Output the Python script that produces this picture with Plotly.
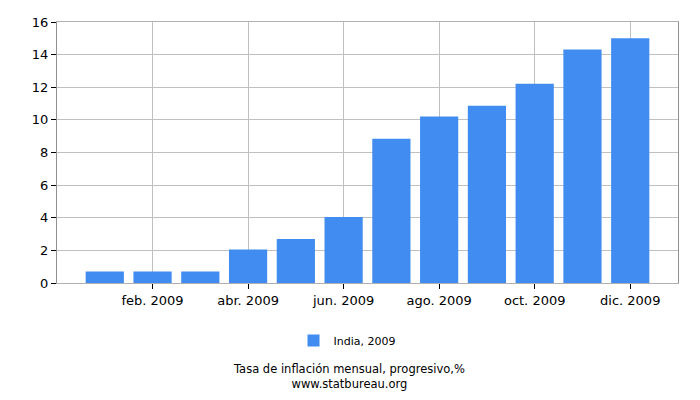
import plotly.graph_objs as go

# datos
meses = list(range(1, 13))
etiquetas_x = ["feb. 2009", "abr. 2009", "jun. 2009", "ago. 2009", "oct. 2009", "dic. 2009"]
posiciones_x = [2, 4, 6, 8, 10, 12]
inflacion = [0.7, 0.7, 0.7, 2.05, 2.7, 4.05, 8.85, 10.2, 10.87, 12.22, 14.31, 15.0]
serie = "India, 2009"

fig = go.Figure()
fig.add_trace(go.Bar(x=meses, y=inflacion, name=serie, width=0.8,
                     marker=dict(color="#418cf0", line=dict(width=0))))

# la pagina tiene 8px de margen en body, se compensa aqui
fig.update_layout(
    width=692, height=392,
    margin=dict(l=49, r=22, t=14, b=117, autoexpand=False),
    paper_bgcolor="white", plot_bgcolor="white",
    font=dict(family="DejaVu Sans", size=13, color="#000000"),
    showlegend=True,
    legend=dict(orientation="h", x=0.467, xanchor="center", y=-0.22, yanchor="middle",
                font=dict(size=11)),
    xaxis=dict(range=[0, 13], tickvals=posiciones_x, ticktext=etiquetas_x,
               showgrid=True, gridcolor="#c0c0c0", gridwidth=1,
               ticks="outside", ticklen=5, tickcolor="#000000",
               showline=True, linecolor="#b0b0b0", mirror=True, zeroline=False),
    yaxis=dict(range=[0, 16], dtick=2, showgrid=True, gridcolor="#c0c0c0", gridwidth=1,
               ticks="outside", ticklen=5, tickcolor="#000000",
               showline=True, linecolor="#909090", mirror=True, zeroline=False),
)

fig.add_annotation(text="Tasa de inflación mensual, progresivo,%<br>www.statbureau.org",
                   xref="paper", yref="paper", x=0.471, y=-0.357, showarrow=False,
                   font=dict(size=11.5), yanchor="middle")

fig.write_html("out.html")
